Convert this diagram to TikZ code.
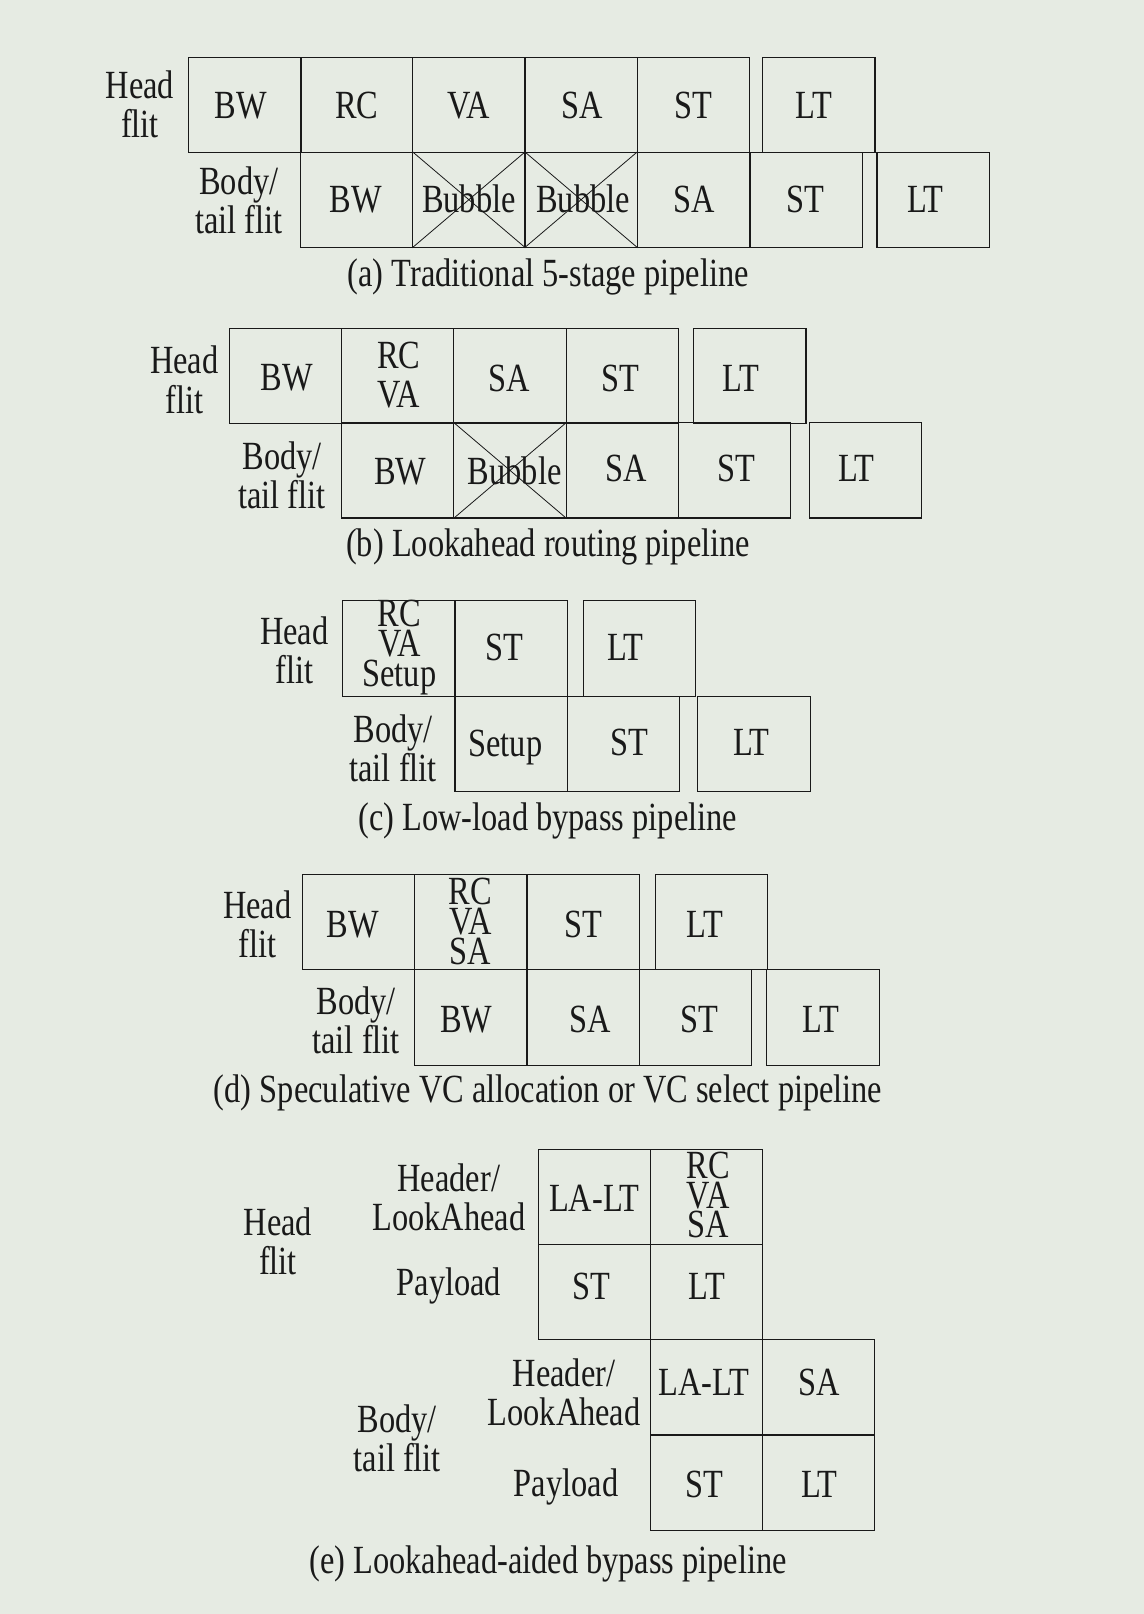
\documentclass[tikz,border=0pt]{standalone}
\usepackage{fontspec}
\setmainfont{Liberation Serif}[FakeStretch=0.81]
\definecolor{bgcol}{RGB}{230,235,227}
\definecolor{ink}{RGB}{25,25,25}
\newcommand\stg[6]{%
  \node[sbox] (#1) at (#2,#3) {};
  \node[stxt] (#1t) at (#2+#4,#3+#5) {#6};}
\begin{document}
\begin{tikzpicture}[x=0.51485pt,y=-0.51485pt,
  every node/.style={font=\fontsize{20}{19.56}\selectfont, text=ink},
  sbox/.style={draw=ink, line width=0.55pt, minimum width=109*0.51485pt,
    minimum height=92.5*0.51485pt, inner sep=0pt},
  stxt/.style={inner sep=0pt, text height=13.2pt, text depth=0pt},
  lbl/.style={inner sep=0pt, align=center},
  stk/.style={inner sep=0pt, align=center, font=\fontsize{20}{14.9}\selectfont},
  xline/.style={draw=ink, line width=0.4pt}]
\fill[bgcol] (0,0) rectangle (1111,1568);
\useasboundingbox (0,0) rectangle (1111,1568);

% ---------------- (a)
\stg{a1}{238}{102}{-4}{0}{BW}
\stg{a2}{346.5}{102}{0}{0}{RC}
\stg{a3}{455.5}{102}{0}{0}{VA}
\stg{a4}{564.5}{102}{1}{0}{SA}
\stg{a5}{673.5}{102}{0}{0}{ST}
\stg{a6}{795.5}{102}{-5}{0}{LT}
\stg{a7}{346.5}{194}{-1}{0}{BW}
\stg{a8}{455.5}{194}{0}{0}{Bubble}
\stg{a9}{564.5}{194}{2}{0}{Bubble}
\stg{a10}{673.5}{194}{1}{0}{SA}
\stg{a11}{783.5}{194}{-1}{0}{ST}
\stg{a12}{906.5}{194}{-7.5}{0}{LT}
\draw[xline] (a8.north west) -- (a8.south east) (a8.north east) -- (a8.south west);
\draw[xline] (a9.north west) -- (a9.south east) (a9.north east) -- (a9.south west);
\node[lbl] (aH) at (136,101) {Head\\flit};
\node[lbl] (aB) at (232,195) {Body/\\tail flit};
\node[stxt] (aC) at (532.5,266) {(a) Traditional 5-stage pipeline};

% ---------------- (b)
\stg{b1}{277.5}{365}{1}{2}{BW}
\node[sbox] (b2) at (386.5,365) {};
\node[lbl] (b2t) at (387.5,364) {RC\\VA};
\stg{b3}{495.5}{365}{-1}{3}{SA}
\stg{b4}{604.5}{365}{-2}{3}{ST}
\stg{b5}{728.5}{365}{-9}{3}{LT}
\stg{b6}{386.5}{457}{2.5}{1}{BW}
\stg{b7}{495.5}{457}{4.5}{1}{Bubble}
\stg{b8}{604.5}{457}{3.5}{-2}{SA}
\stg{b9}{713.5}{457}{1.5}{-2}{ST}
\stg{b10}{840.5}{457}{-8.5}{-2}{LT}
\draw[xline] (b7.north west) -- (b7.south east) (b7.north east) -- (b7.south west);
\node[lbl] (bH) at (179,369) {Head\\flit};
\node[lbl] (bB) at (274,462) {Body/\\tail flit};
\node[stxt] (bC) at (532.5,528) {(b) Lookahead routing pipeline};

% ---------------- (c)
\node[sbox] (c1) at (387.5,630) {};
\node[stk] (c1t) at (388,629) {RC\\VA\\Setup};
\stg{c2}{496.5}{630}{-6.5}{-1}{ST}
\stg{c3}{621.5}{630}{-14}{-1}{LT}
\stg{c4}{496.5}{722.5}{-5.5}{0}{Setup}
\stg{c5}{605.5}{722.5}{6}{-1}{ST}
\stg{c6}{732.5}{722.5}{-2.5}{-1}{LT}
\node[lbl] (cH) at (286,632) {Head\\flit};
\node[lbl] (cB) at (382,727) {Body/\\tail flit};
\node[stxt] (cC) at (532,794) {(c) Low-load bypass pipeline};

% ---------------- (d)
\stg{d1}{348.5}{896}{-5.5}{2}{BW}
\node[sbox] (d2) at (457.5,896) {};
\node[stk] (d2t) at (457,895) {RC\\VA\\SA};
\stg{d3}{566.5}{896}{0}{2}{ST}
\stg{d4}{691.5}{896}{-6.5}{2}{LT}
\stg{d5}{457.5}{988.5}{-4.5}{1.5}{BW}
\stg{d6}{566.5}{988.5}{6.5}{1.5}{SA}
\stg{d7}{675.5}{988.5}{3.5}{1.5}{ST}
\stg{d8}{799.5}{988.5}{-2}{1.5}{LT}
\node[lbl] (dH) at (250,898) {Head\\flit};
\node[lbl] (dB) at (346,991) {Body/\\tail flit};
\node[stxt] (dC) at (532.5,1058) {(d) Speculative VC allocation or VC select pipeline};

% ---------------- (e)
\stg{e1}{577.5}{1163}{0}{1}{LA-LT}
\node[sbox] (e2) at (686.5,1163) {};
\node[stk] (e2t) at (688,1161) {RC\\VA\\SA};
\stg{e3}{577.5}{1255}{-3}{-5}{ST}
\stg{e4}{686.5}{1255}{0}{-5}{LT}
\stg{e5}{686.5}{1347.5}{-2.5}{-4.5}{LA-LT}
\stg{e6}{795}{1347.5}{1}{-4.5}{SA}
\stg{e7}{686.5}{1440.5}{-2}{1.5}{ST}
\stg{e8}{795}{1440.5}{1}{1.5}{LT}
\node[lbl] (eH) at (270,1206) {Head\\flit};
\node[lbl] (eHL) at (436,1163) {Header/\\LookAhead};
\node[stxt] (eHP) at (436,1246) {Payload};
\node[lbl] (eB) at (386,1397) {Body/\\tail flit};
\node[lbl] (eBL) at (548,1353) {Header/\\LookAhead};
\node[stxt] (eBP) at (550,1441) {Payload};
\node[stxt] (eC) at (532.5,1516) {(e) Lookahead-aided bypass pipeline};
\end{tikzpicture}
\end{document}
